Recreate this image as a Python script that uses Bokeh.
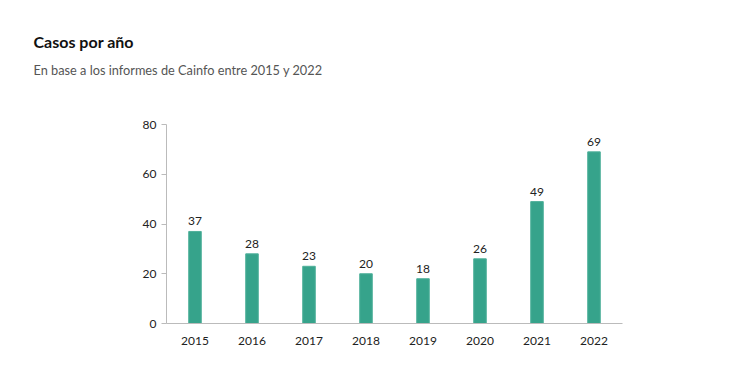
from bokeh.plotting import figure
from bokeh.models import ColumnDataSource, LabelSet, Title, FactorRange, Range1d, FixedTicker
from bokeh.core.properties import value
from bokeh.embed import file_html
from bokeh.resources import INLINE

years = ["2015", "2016", "2017", "2018", "2019", "2020", "2021", "2022"]
cases = [37, 28, 23, 20, 18, 26, 49, 69]
y_ticks = [0, 20, 40, 60, 80]

src = ColumnDataSource(dict(year=years, cases=cases, label=[str(v) for v in cases]))

p = figure(width=720, height=358, x_range=FactorRange(*years), y_range=Range1d(0, 80),
           output_backend="svg", toolbar_location=None,
           min_border_left=166, min_border_right=98, min_border_top=124, min_border_bottom=35)
p.outline_line_color = None
p.xgrid.grid_line_color = None
p.ygrid.grid_line_color = None
p.x_range.range_padding = 0

p.vbar(x="year", top="cases", width=0.22, source=src, fill_color="#36a38b",
       line_color="#4fb09a", line_width=1)

labels = LabelSet(x="year", y="cases", text="label", source=src, y_offset=6,
                  text_align="center", text_baseline="bottom",
                  text_font=value("Lato"), text_font_size=value("12px"), text_color="#222222")
p.add_layout(labels)

for ax in (p.xaxis[0], p.yaxis[0]):
    ax.axis_line_color = "#bbbbbb"
    ax.axis_line_width = 1
    ax.major_label_text_font = "Lato"
    ax.major_label_text_font_size = "12px"
    ax.major_label_text_color = "#222222"
    ax.minor_tick_line_color = None

p.xaxis.major_tick_line_color = None
p.xaxis.major_label_standoff = 7
p.yaxis.ticker = FixedTicker(ticks=y_ticks)
p.yaxis.major_tick_line_color = "#bbbbbb"
p.yaxis.major_tick_out = 5
p.yaxis.major_tick_in = 0
p.yaxis.major_label_standoff = 5

spacer = Title(text=" ", align="left", standoff=39, text_font_size="1px")
sub = Title(text="En base a los informes de Cainfo entre 2015 y 2022", align="left",
            offset=-133, standoff=10, text_font="Lato", text_font_size="12.75px",
            text_font_style="normal", text_color="#555555")
ttl = Title(text="Casos por año", align="left", offset=-133, standoff=8,
            text_font="Lato", text_font_size="16px", text_font_style="bold",
            text_color="#111111")
p.add_layout(spacer, "above")
p.add_layout(sub, "above")
p.add_layout(ttl, "above")

open("out.html", "w").write(file_html(p, INLINE))
